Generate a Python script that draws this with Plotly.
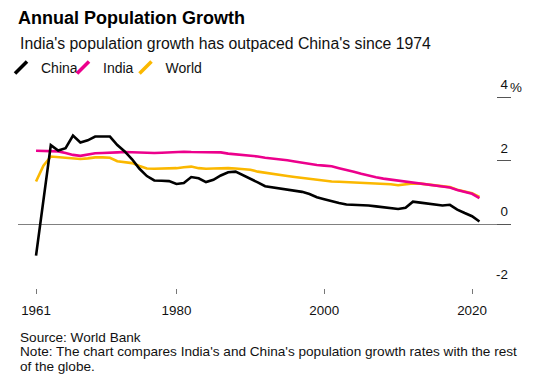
import plotly.graph_objects as go

years = list(range(1961, 2022))

china = [-1.00, 0.75, 2.50, 2.33, 2.40, 2.80, 2.58, 2.65, 2.77, 2.77,
         2.77, 2.50, 2.30, 2.05, 1.75, 1.52, 1.38, 1.37, 1.36, 1.27,
         1.30, 1.49, 1.45, 1.33, 1.40, 1.54, 1.64, 1.66, 1.55, 1.45,
         1.32, 1.20, 1.16, 1.13, 1.10, 1.06, 1.02, 0.95, 0.85, 0.79,
         0.72, 0.67, 0.62, 0.61, 0.61, 0.59, 0.56, 0.53, 0.51, 0.48,
         0.52, 0.71, 0.68, 0.65, 0.62, 0.59, 0.61, 0.46, 0.35, 0.25,
         0.08]

india = [2.32, 2.32, 2.32, 2.30, 2.25, 2.19, 2.16, 2.20, 2.24, 2.25,
         2.25, 2.27, 2.28, 2.27, 2.26, 2.25, 2.25, 2.26, 2.27, 2.30,
         2.29, 2.28, 2.28, 2.28, 2.28, 2.27, 2.23, 2.21, 2.20, 2.18,
         2.14, 2.10, 2.08, 2.05, 2.02, 1.98, 1.94, 1.90, 1.87, 1.85,
         1.83, 1.77, 1.72, 1.66, 1.59, 1.53, 1.48, 1.44, 1.41, 1.38,
         1.36, 1.33, 1.30, 1.26, 1.22, 1.20, 1.16, 1.08, 1.03, 0.96,
         0.82]

world = [1.35, 1.85, 2.14, 2.12, 2.12, 2.10, 2.06, 2.08, 2.11, 2.11,
         2.10, 1.99, 1.97, 1.93, 1.84, 1.76, 1.75, 1.75, 1.76, 1.77,
         1.80, 1.82, 1.77, 1.75, 1.76, 1.77, 1.77, 1.76, 1.75, 1.72,
         1.66, 1.62, 1.58, 1.55, 1.52, 1.49, 1.46, 1.42, 1.39, 1.36,
         1.35, 1.34, 1.33, 1.32, 1.31, 1.30, 1.30, 1.29, 1.26, 1.23,
         1.25, 1.29, 1.28, 1.25, 1.23, 1.21, 1.17, 1.09, 1.04, 0.98,
         0.86]

x_tickvals = [1961, 1980, 2000, 2020]
x_ticktext = ["1961", "1980", "2000", "2020"]
y_tickvals = [-2, 0, 2, 4]
y_ticktext = ["-2", "0", "2", "4"]

series_names = ["China", "India", "World"]
colors = {"China": "#000000", "India": "#ec008c", "World": "#fbb800"}
data = {"China": china, "India": india, "World": world}

FONT = "Liberation Sans, Arial, Helvetica, sans-serif"
W, H = 537, 383
L, R, T, B = 18, 26, 60, 95
PW = W - L - R
PH = H - T - B
PX_PER_UNIT = 31.6
Y_TOP = 4 + (97.7 - T) / PX_PER_UNIT
Y_BOTTOM = Y_TOP - PH / PX_PER_UNIT

fig = go.Figure()

for name in ["World", "India", "China"]:
    fig.add_trace(go.Scatter(
        x=years, y=data[name], mode="lines", name=name,
        line=dict(color=colors[name], width=2.6),
        showlegend=False, hoverinfo="skip",
    ))

legend_widths = {"China": 17, "India": 17.5, "World": 40}
for name in series_names:
    fig.add_trace(go.Scatter(
        x=[None], y=[None], mode="markers", name=name,
        marker=dict(symbol="line-ne", size=12, color=colors[name],
                    line=dict(color=colors[name], width=3.5)),
        legendwidth=legend_widths[name],
    ))

fig.update_layout(
    width=W, height=H,
    margin=dict(l=L, r=R, t=T, b=B, pad=0, autoexpand=False),
    paper_bgcolor="white", plot_bgcolor="white",
    font=dict(family=FONT, color="#111111", size=13.4),
    title=dict(
        text="<b>Annual Population Growth</b>",
        font=dict(family=FONT, size=18, color="#000000"),
        xref="container", x=18 / W, xanchor="left",
        yref="container", y=1 - 11 / H, yanchor="top",
        pad=dict(t=0, b=0, l=0, r=0),
    ),
    legend=dict(
        orientation="h",
        xref="paper", x=(1 - L) / PW, xanchor="left",
        yref="paper", y=(H - B - 52) / PH, yanchor="top",
        font=dict(family=FONT, size=14, color="#111111"),
        bgcolor="rgba(0,0,0,0)", borderwidth=0,
        tracegroupgap=0, itemwidth=30,
    ),
    xaxis=dict(
        range=[1958.56, 2025.27],
        tickmode="array", tickvals=x_tickvals, ticktext=x_ticktext,
        ticks="outside", ticklen=5, tickwidth=1, tickcolor="#777777",
        ticklabelstandoff=5,
        showgrid=False, showline=False, zeroline=False,
        tickfont=dict(family=FONT, size=13.4, color="#111111"),
        fixedrange=True,
    ),
    yaxis=dict(
        range=[Y_BOTTOM, Y_TOP], side="right",
        tickmode="array", tickvals=y_tickvals, ticktext=y_ticktext,
        ticks="inside", ticklen=14, tickwidth=1.3, tickcolor="#555555",
        ticklabelposition="inside top", ticklabelshift=-3,
        showgrid=False, showline=False,
        zeroline=True, zerolinecolor="#808080", zerolinewidth=1.2,
        tickfont=dict(family=FONT, size=13.4, color="#111111"),
        fixedrange=True,
    ),
    showlegend=True,
)


def py(pix):
    return (H - B - pix) / PH


fig.add_annotation(
    text="India's population growth has outpaced China's since 1974",
    xref="paper", yref="paper", x=0, y=py(43), xanchor="left", yanchor="middle",
    showarrow=False, font=dict(family=FONT, size=15.8, color="#111111"),
)
fig.add_annotation(
    text="%", xref="paper", yref="y", x=1, y=4, xanchor="left", yanchor="bottom",
    yshift=2, xshift=-2, showarrow=False, borderpad=0,
    font=dict(family=FONT, size=13.4, color="#111111"),
)
footer = [
    ("Source: World Bank", 337.5),
    ("Note: The chart compares India's and China's population growth rates with the rest", 351.8),
    ("of the globe.", 366.1),
]
for txt, yy in footer:
    fig.add_annotation(
        text=txt, xref="paper", yref="paper", x=0, y=py(yy),
        xanchor="left", yanchor="middle", showarrow=False,
        font=dict(family=FONT, size=13.6, color="#111111"),
    )

fig.write_html(
    "out.html",
    config={"displayModeBar": False},
    post_script="document.body.style.margin='0px';document.body.style.overflow='hidden';",
)
